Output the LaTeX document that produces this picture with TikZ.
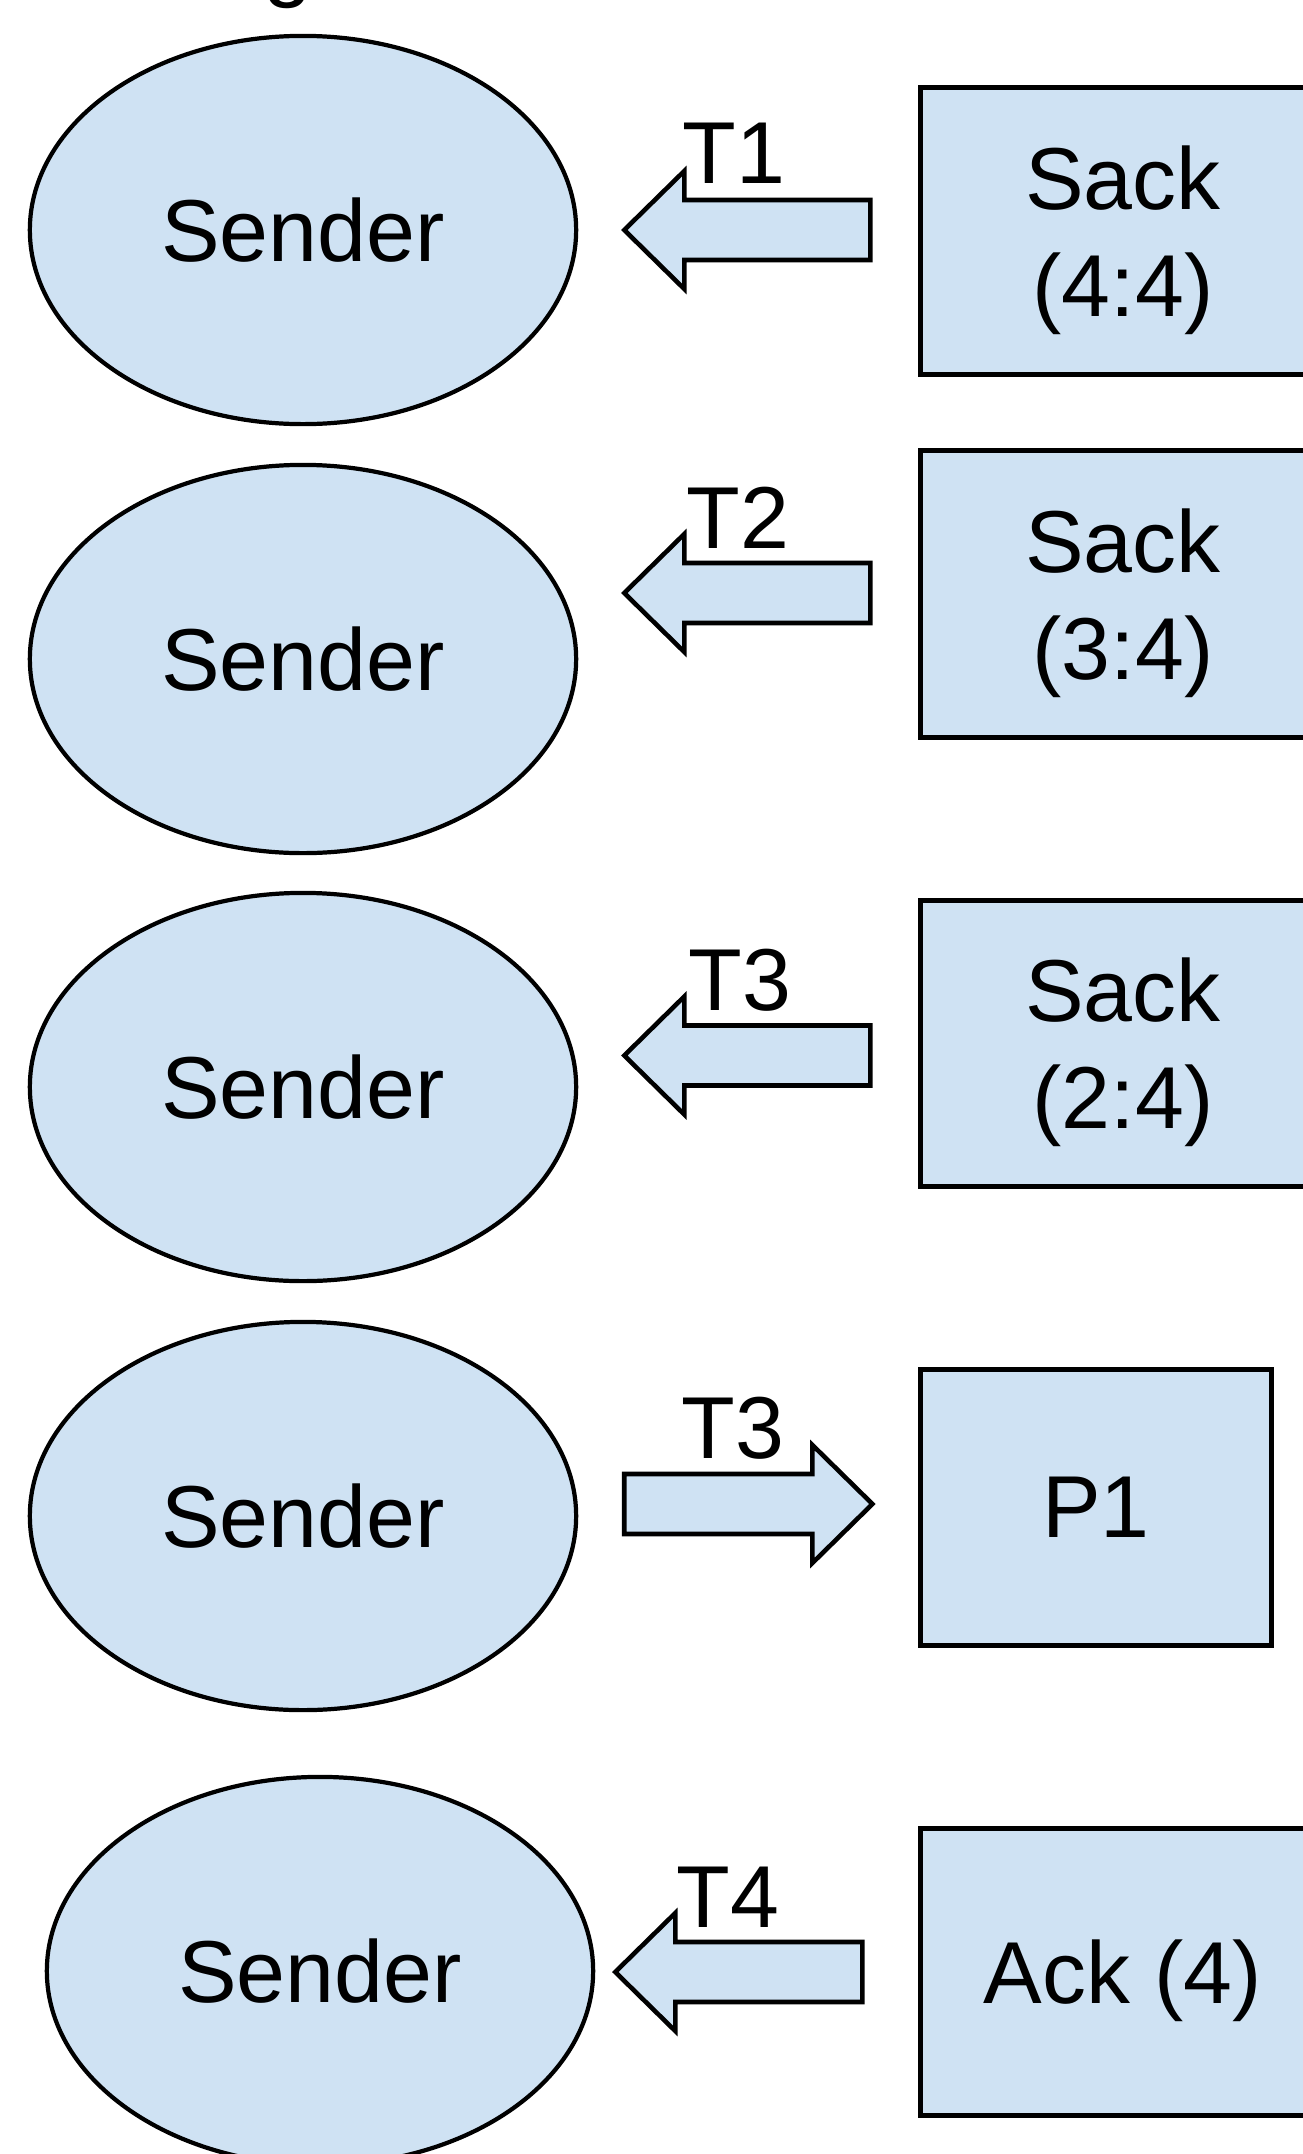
\documentclass[tikz,border=0pt]{standalone}
\usepackage{fontspec}
\setmainfont{Liberation Sans}
\usetikzlibrary{shapes.geometric,calc}
\definecolor{paleblue}{HTML}{CFE2F3}
\newcommand\bigfont{\fontsize{25}{30.4}\selectfont}

% Block arrow drawn from a tail coordinate to a tip coordinate
% (shaft half-width 30, head half-width 59, head length 60, in drawing units)
\newcommand\blockarrow[2]{%
  \coordinate (#2-hb) at ($(#2)!0.6cm!(#1)$);
  \draw[blockarrow] ($(#1)+(0,-30)$) -- ($(#2-hb)+(0,-30)$) -- ($(#2-hb)+(0,-59)$)
    -- (#2) -- ($(#2-hb)+(0,59)$) -- ($(#2-hb)+(0,30)$) -- ($(#1)+(0,30)$) -- cycle;
}

\tikzset{
  sender/.style={ellipse, draw=black, fill=paleblue, line width=1.2pt,
    minimum width=5.46cm, minimum height=3.88cm, inner sep=0pt,
    font=\bigfont, text depth=0pt},
  msgbox/.style={rectangle, draw=black, fill=paleblue, line width=1.4pt,
    inner sep=0pt, minimum width=4.04cm, minimum height=2.86cm,
    font=\bigfont, align=center, text depth=0pt},
  tlabel/.style={font=\bigfont, inner sep=0pt, anchor=base west},
  blockarrow/.style={draw=black, fill=paleblue, line width=1.3pt, line join=miter},
}

\begin{document}
\begin{tikzpicture}[x=0.01cm, y=-0.01cm]
  \useasboundingbox (0,0) rectangle (1303,2154);
  \fill[white] (0,0) rectangle (1303,2154);
  \clip (0,0) rectangle (1303,2154);

  % caption line running above the top edge
  \node[tlabel] (caption) at (263,-10) {g};

  % senders
  \node[sender] (s1) at (303,230)  {Sender};
  \node[sender] (s2) at (303,659)  {Sender};
  \node[sender] (s3) at (303,1087) {Sender};
  \node[sender] (s4) at (303,1516) {Sender};
  \node[sender] (s5) at (320,1971) {Sender};

  % messages
  \node[msgbox] (b1) at (1123,231)    {Sack\\(4:4)};
  \node[msgbox] (b2) at (1123,594)    {Sack\\(3:4)};
  \node[msgbox] (b3) at (1123,1043.5) {Sack\\(2:4)};
  \node[msgbox, minimum width=3.5cm, minimum height=2.75cm] (b4) at (1096,1507.5) {P1};
  \node[msgbox] (b5) at (1123,1972)   {Ack (4)};

  % arrow ends
  \coordinate (a1t) at ($(b1.west)+(-48,-1)$);
  \coordinate (a1p) at ($(s1.east |- a1t)+(46,0)$);
  \coordinate (a2t) at ($(b2.west)+(-48,-1)$);
  \coordinate (a2p) at ($(s2.east |- a2t)+(46,0)$);
  \coordinate (a3t) at ($(b3.west)+(-48,12)$);
  \coordinate (a3p) at ($(s3.east |- a3t)+(46,0)$);
  \coordinate (a4t) at ($(s4.east |- b4.west)+(46,-3.5)$);
  \coordinate (a4p) at ($(b4.west)+(-46,-3.5)$);
  \coordinate (a5t) at ($(b5.west)+(-56,0)$);
  \coordinate (a5p) at ($(s5.east |- a5t)+(20,0)$);

  \blockarrow{a1t}{a1p}
  \blockarrow{a2t}{a2p}
  \blockarrow{a3t}{a3p}
  \blockarrow{a4t}{a4p}
  \blockarrow{a5t}{a5p}

  % time labels
  \node[tlabel] (l1) at (682,183)  {T1};
  \node[tlabel] (l2) at (686,548)  {T2};
  \node[tlabel] (l3) at (688,1010) {T3};
  \node[tlabel] (l4) at (681,1458) {T3};
  \node[tlabel] (l5) at (676,1927) {T4};
\end{tikzpicture}
\end{document}
